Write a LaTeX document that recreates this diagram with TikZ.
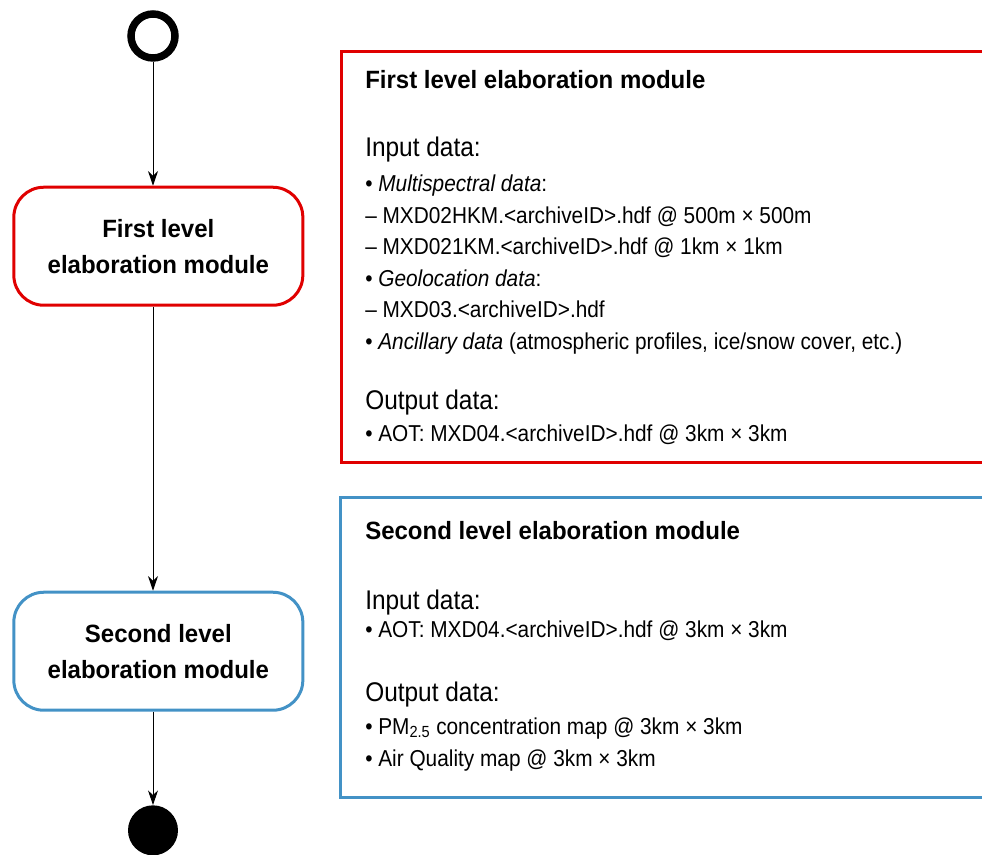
\documentclass[tikz,border=0pt]{standalone}
\usepackage{fontspec}
\setmainfont{Liberation Sans}[FakeStretch=0.905, BoldFeatures={FakeStretch=0.96}, BoldItalicFeatures={FakeStretch=0.96}]
\usetikzlibrary{arrows.meta, positioning}
\definecolor{firstred}{RGB}{224,0,0}
\definecolor{secondblue}{RGB}{67,146,198}

\begin{document}
\begin{tikzpicture}[
    x=0.75pt, y=-0.75pt,
    modulebox/.style={rectangle, draw, rounded corners=22.5pt, line width=2.25pt, minimum width=216.75pt, minimum height=88.5pt, align=center, font=\bfseries\fontsize{18.75}{27}\selectfont},
    paneltitle/.style={anchor=base west, inner sep=0pt, font=\bfseries\fontsize{18.75}{22}\selectfont},
    panelhead/.style={anchor=base west, inner sep=0pt, font=\fontsize{20.25}{24}\selectfont},
    panelitem/.style={anchor=base west, inner sep=0pt, font=\fontsize{17.25}{21}\selectfont},
    arrow/.style={-{Stealth[length=11pt, width=7.5pt, inset=3.5pt]}, line width=0.75pt}
  ]
    \useasboundingbox (0,0) rectangle (982,855);

    % Activity flow
    \node[circle, draw, line width=5.6pt, minimum size=33pt, inner sep=0pt] (start) at (153,36) {};
    \node[modulebox, draw=firstred, below=93pt of start, xshift=4pt] (first) {First level\\elaboration module};
    \node[modulebox, draw=secondblue, below=213pt of first] (second) {Second level\\elaboration module};
    \node[circle, fill=black, minimum size=37.5pt, inner sep=0pt, below=70pt of second.south -| start] (stop) {};

    % Arrows
    \draw[arrow] (start) -- (start |- first.north);
    \draw[arrow] (first.south -| start) -- (start |- second.north);
    \draw[arrow] (second.south -| start) -- (stop);

    % First level panel
    \draw[firstred, line width=2.6pt] (990,51.5) -| (341.5,462.5) -- (990,462.5);
    \node[paneltitle] (firsttitle) at (365,89) {First level elaboration module};
    \node[panelhead] (firstin) at (365,157) {Input data:};
    \node[panelitem] (multi) at (365,191.5) {\textbullet\ \textit{Multispectral data}:};
    \node[panelitem] (hkm) at (365,223.1) {– MXD02HKM.<archiveID>.hdf @ 500m × 500m};
    \node[panelitem] (onekm) at (365,254.7) {– MXD021KM.<archiveID>.hdf @ 1km × 1km};
    \node[panelitem] (geo) at (365,286.3) {\textbullet\ \textit{Geolocation data}:};
    \node[panelitem] (mxd03) at (365,317.9) {– MXD03.<archiveID>.hdf};
    \node[panelitem] (ancil) at (365,349.5) {\textbullet\ \textit{Ancillary data} (atmospheric profiles, ice/snow cover, etc.)};
    \node[panelhead] (firstout) at (365,410) {Output data:};
    \node[panelitem] (firstaot) at (365,441.5) {\textbullet\ AOT: MXD04.<archiveID>.hdf @ 3km × 3km};

    % Second level panel
    \draw[secondblue, line width=2.25pt] (990,497.5) -| (340,797) -- (990,797);
    \node[paneltitle] (secondtitle) at (365,539) {Second level elaboration module};
    \node[panelhead] (secondin) at (365,609) {Input data:};
    \node[panelitem] (secondaot) at (365,637.5) {\textbullet\ AOT: MXD04.<archiveID>.hdf @ 3km × 3km};
    \node[panelhead] (secondout) at (365,701) {Output data:};
    \node[panelitem] (pmmap) at (365,734.5) {\textbullet\ PM\textsubscript{2.5} concentration map @ 3km × 3km};
    \node[panelitem] (aqmap) at (365,766.5) {\textbullet\ Air Quality map @ 3km × 3km};
\end{tikzpicture}
\end{document}
